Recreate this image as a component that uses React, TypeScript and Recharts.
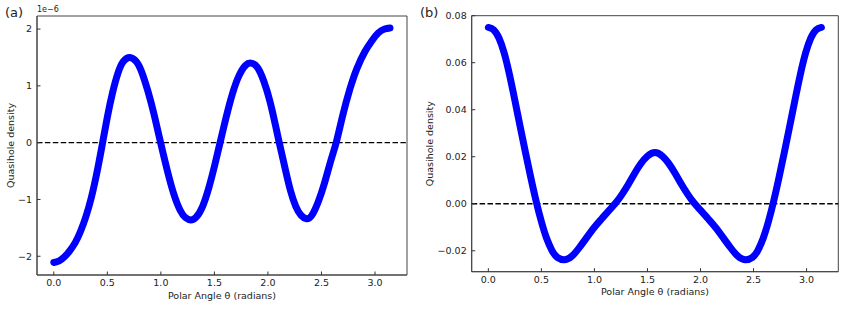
import React from 'react'
import { LineChart, Line, XAxis, YAxis, ReferenceLine, ReferenceArea } from 'recharts'

// panel (a): quasihole density, units of 1e-6
const thetaA = [
  0.0, 0.05, 0.1, 0.15, 0.2, 0.25, 0.3, 0.35, 0.4, 0.45, 0.5, 0.55, 0.6, 0.65, 0.71, 0.77,
  0.82, 0.88, 0.94, 1.0, 1.06, 1.12, 1.18, 1.23, 1.28, 1.33, 1.39, 1.45, 1.5, 1.553, 1.61,
  1.67, 1.73, 1.79, 1.843, 1.9, 1.96, 2.02, 2.07, 2.106, 2.16, 2.21, 2.26, 2.31, 2.36, 2.41,
  2.47, 2.53, 2.59, 2.64, 2.7, 2.765, 2.83, 2.905, 2.97, 3.03, 3.09, 3.14,
]
const densityA = [
  -2.11, -2.08, -2.01, -1.9, -1.76, -1.56, -1.3, -0.97, -0.55, -0.06, 0.45, 0.89, 1.23, 1.43,
  1.5, 1.43, 1.25, 0.9, 0.47, -0.02, -0.49, -0.9, -1.19, -1.32, -1.36, -1.31, -1.12, -0.78,
  -0.42, 0.0, 0.45, 0.87, 1.18, 1.36, 1.4, 1.33, 1.09, 0.72, 0.31, 0.0, -0.45, -0.84, -1.12,
  -1.28, -1.34, -1.28, -1.04, -0.7, -0.3, 0.02, 0.49, 0.94, 1.3, 1.6, 1.79, 1.93, 2.0, 2.02,
]

// panel (b)
const thetaB = [
  0.0, 0.05, 0.1, 0.15, 0.2, 0.25, 0.3, 0.35, 0.4, 0.45, 0.5, 0.55, 0.6, 0.65, 0.72, 0.79,
  0.86, 0.93, 1.0, 1.07, 1.13, 1.2, 1.26, 1.32, 1.38, 1.44, 1.5, 1.571, 1.64, 1.7, 1.76, 1.82,
  1.88, 1.94, 2.01, 2.07, 2.14, 2.21, 2.28, 2.35, 2.42, 2.49, 2.54, 2.59, 2.64, 2.69, 2.74,
  2.79, 2.84, 2.89, 2.94, 2.99, 3.04, 3.09, 3.14,
]
const densityB = [
  0.075, 0.074, 0.0705, 0.064, 0.0548, 0.044, 0.0328, 0.0218, 0.0112, 0.0012, -0.0076,
  -0.0148, -0.0199, -0.0228, -0.0238, -0.0222, -0.0185, -0.0142, -0.01, -0.0063, -0.0032,
  0.0003, 0.004, 0.0083, 0.013, 0.0172, 0.0203, 0.0218, 0.0203, 0.0172, 0.013, 0.0083, 0.004,
  0.0003, -0.0032, -0.0063, -0.01, -0.0142, -0.0185, -0.0222, -0.0238, -0.0228, -0.0199,
  -0.0148, -0.0076, 0.0012, 0.0112, 0.0218, 0.0328, 0.044, 0.0548, 0.064, 0.0705, 0.074,
  0.075,
]

const xTicks = [0, 0.5, 1, 1.5, 2, 2.5, 3]
const yTicksA = [-2, -1, 0, 1, 2]
const yTicksB = [-0.02, 0, 0.02, 0.04, 0.06, 0.08]
const xDomain = [-0.157, 3.299]

const dataA = thetaA.map((t, i) => ({ theta: t, v: densityA[i] }))
const dataB = thetaB.map((t, i) => ({ theta: t, v: densityB[i] }))

const font = 'DejaVu Sans, sans-serif'
const tickStyle = { fontSize: 9.5, fill: '#222', fontFamily: font }
const spine = { stroke: '#444', strokeWidth: 1 }
const minus = (s: string) => s.replace('-', '\u2212')

const xLabel = (props: any) => {
  const vb = props.viewBox
  return (
    <text x={vb.x + vb.width / 2} y={vb.y + 23.5} textAnchor="middle" fontSize={9.5} fill="#222" fontFamily={font}>
      Polar Angle θ (radians)
    </text>
  )
}

const yLabel = (off: number) => (props: any) => {
  const vb = props.viewBox
  const cx = vb.x + vb.width - off
  const cy = vb.y + vb.height / 2
  return (
    <text x={cx} y={cy} transform={`rotate(-90, ${cx}, ${cy})`} textAnchor="middle" dy={3.4} fontSize={9.5} fill="#222" fontFamily={font}>
      Quasihole density
    </text>
  )
}

function Panel({ data, w, yw, xh, margin, yDomain, yTicks, yFmt, yOff }: any) {
  return (
    <LineChart width={w} height={311} data={data} margin={margin}>
      <XAxis
        dataKey="theta"
        type="number"
        domain={xDomain}
        ticks={xTicks}
        allowDataOverflow
        height={xh}
        tickSize={-3.5}
        tickMargin={8.1}
        tick={tickStyle}
        tickLine={{ stroke: '#333' }}
        axisLine={spine}
        tickFormatter={(v: number) => v.toFixed(1)}
        label={{ content: xLabel }}
      />
      <YAxis
        type="number"
        domain={yDomain}
        ticks={yTicks}
        allowDataOverflow
        width={yw}
        tickSize={-3.5}
        tickMargin={8.5}
        tick={tickStyle}
        tickLine={{ stroke: '#333' }}
        axisLine={spine}
        tickFormatter={(v: number) => minus(yFmt(v))}
        label={{ content: yLabel(yOff) }}
      />
      <ReferenceArea
        x1={xDomain[0]}
        x2={xDomain[1]}
        y1={yDomain[0]}
        y2={yDomain[1]}
        fill="none"
        stroke="#444"
        strokeWidth={1}
      />
      <ReferenceLine y={0} stroke="#000" strokeWidth={1.4} strokeDasharray="5.5 2.4" />
      <Line
        type="natural"
        dataKey="v"
        stroke="#0000ff"
        strokeWidth={7}
        strokeLinecap="round"
        strokeLinejoin="round"
        dot={false}
        isAnimationActive={false}
      />
    </LineChart>
  )
}

export default function App() {
  const txt = { position: 'absolute' as const, fontFamily: font, color: '#222', lineHeight: 1 }
  return (
    <div style={{ position: 'fixed', left: 0, top: 0, width: 864, height: 311, background: '#fff' }}>
      <div style={{ position: 'absolute', left: 0, top: 0 }}>
        <Panel
          data={dataA}
          w={420}
          yw={37}
          xh={36}
          margin={{ top: 16, right: 13, left: 0, bottom: 0 }}
          yDomain={[-2.33, 2.23]}
          yTicks={yTicksA}
          yFmt={(v: number) => String(v)}
          yOff={26}
        />
      </div>
      <div style={{ position: 'absolute', left: 420, top: 0 }}>
        <Panel
          data={dataB}
          w={444}
          yw={51.7}
          xh={39.3}
          margin={{ top: 15.7, right: 25.7, left: 0, bottom: 0 }}
          yDomain={[-0.0289, 0.08]}
          yTicks={yTicksB}
          yFmt={(v: number) => v.toFixed(2)}
          yOff={41.7}
        />
      </div>
      <div style={{ ...txt, left: 5, top: 6, fontSize: 13 }}>(a)</div>
      <div style={{ ...txt, left: 420, top: 6, fontSize: 13 }}>(b)</div>
      <div style={{ ...txt, left: 37, top: 6, fontSize: 8 }}>1e{'\u2212'}6</div>
    </div>
  )
}
